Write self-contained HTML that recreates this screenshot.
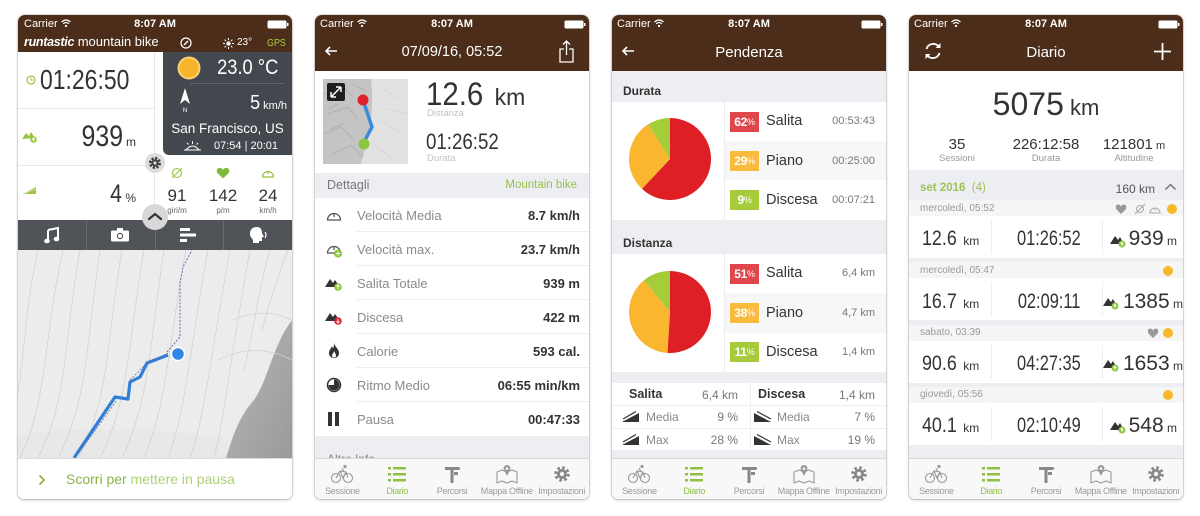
<!DOCTYPE html>
<html><head><meta charset="utf-8">
<style>
*{margin:0;padding:0;box-sizing:border-box}
body{width:1200px;height:516px;background:#fff;position:relative;overflow:hidden;font-family:"Liberation Sans",Arial,sans-serif;color:#333}
.ph{position:absolute;top:15px;width:274px;height:484px;border-radius:7px 7px 6px 6px;overflow:hidden;background:#fff;box-shadow:0 0 0 1px rgba(0,0,0,.10),0 1px 3px rgba(0,0,0,.22)}
.a{position:absolute;white-space:nowrap;line-height:1}
.hd{position:absolute;left:0;top:0;width:274px;height:56px;background:#4b2d19}
.st{font-size:11px;color:#fff}
.sb{font-size:11px;color:#fff;font-weight:bold;left:0;width:274px;text-align:center}
.ttl{font-size:14.5px;color:#fff;left:0;width:274px;text-align:center;top:29.5px}
.cx{display:inline-block;transform-origin:left bottom}
.cr{display:inline-block;transform-origin:right bottom}
.cc{display:inline-block;transform-origin:center bottom}
.ln{position:absolute;background:#e8e8e8}
.band{position:absolute;left:0;width:274px;background:#eceef1}
.tab{position:absolute;left:0;top:443px;width:274px;height:41px;background:#f8f8f8;border-top:1px solid #d9d9d9;display:flex}
.tab div{flex:1;position:relative}
.tab svg{position:absolute;left:50%;margin-left:-12px;top:5px}
.tab span{position:absolute;left:-5px;right:-5px;text-align:center;top:28px;font-size:9px;color:#9a9a9a;line-height:1;letter-spacing:-.3px;white-space:nowrap}
.lbl{font-size:13px;color:#8a8a8a;left:42px}
.val{font-size:13px;color:#333;font-weight:bold;right:9px}
.badge{position:absolute;left:118px;width:29px;height:20px;color:#fff;font-weight:bold;font-size:12px;display:flex;align-items:center;justify-content:center;letter-spacing:-.3px}
.badge small{font-size:9px;font-weight:normal}
.pl{font-size:14.5px;color:#333;left:154px}
.pt{font-size:11px;color:#777;right:11px}
.dt{font-size:10px;color:#9a9a9a;left:11px}
.num{font-size:21px;color:#333}
</style></head><body>

<!-- ================= PHONE 1 ================= -->
<div class="ph" style="left:18px">
 <div class="hd" style="height:37px"></div>
 <div class="a st" style="left:6px;top:3.7px">Carrier <svg width="10" height="8" viewBox="0 0 10 8" style="vertical-align:0"><path d="M0.5 3 Q5 -1 9.5 3" stroke="#fff" stroke-width="1.2" fill="none"/><path d="M2.2 4.8 Q5 2.2 7.8 4.8" stroke="#fff" stroke-width="1.2" fill="none"/><circle cx="5" cy="7" r="1.1" fill="#fff"/></svg></div>
 <div class="a sb" style="top:3.7px">8:07 AM</div>
 <svg class="a" style="left:249px;top:5px" width="22" height="9"><rect x="0.5" y="0.5" width="19" height="8" rx="1.5" fill="#fff"/><rect x="20" y="3" width="1.5" height="3" fill="#fff"/></svg>
 <div class="a" style="left:6px;top:20px;font-size:13px;color:#fff"><b><i style="font-size:12.5px;letter-spacing:-.3px">runtastic</i></b> mountain bike</div>
 <svg class="a" style="left:162px;top:22px" width="12" height="12"><circle cx="6" cy="6" r="5" stroke="#fff" stroke-width="1.2" fill="none"/><path d="M4 8 L8 4" stroke="#fff" stroke-width="1.4"/></svg>
 <svg class="a" style="left:205px;top:23px" width="11" height="11"><circle cx="5.5" cy="5.5" r="2.2" fill="#fff"/><g stroke="#fff" stroke-width="1"><path d="M5.5 0v2M5.5 9v2M0 5.5h2M9 5.5h2M1.6 1.6l1.4 1.4M8 8l1.4 1.4M1.6 9.4L3 8M8 3l1.4-1.4"/></g></svg>
 <div class="a" style="left:219px;top:22.7px;font-size:10px;color:#fff">23°</div>
 <div class="a" style="left:249px;top:22.7px;font-size:10.5px;color:#a9cf3c"><span class="cx" style="transform:scaleX(.85)">GPS</span></div>

 <!-- left column -->
 <svg class="a" style="left:8px;top:60px" width="10" height="10"><circle cx="5" cy="5" r="4" stroke="#9cc443" stroke-width="1.2" fill="none"/><path d="M5 2.5V5h2" stroke="#9cc443" stroke-width="1" fill="none"/></svg>
 <div class="a" style="left:22px;top:51.3px;font-size:28px;color:#333"><span class="cx" style="transform:scaleX(.82)">01:26:50</span></div>
 <div class="ln" style="left:0;top:93px;width:136px;height:1px"></div>
 <svg class="a" style="left:4px;top:115px" width="16" height="13"><path d="M0 9 L4 3 L7 6 L9 2 L13 8 Z" fill="#9cc443"/><circle cx="11.5" cy="9.5" r="3.3" fill="#9cc443"/><path d="M11.5 11.5v-3.5M10 9.5l1.5-1.5 1.5 1.5" stroke="#fff" stroke-width=".9" fill="none"/></svg>
 <div class="a" style="right:156px;top:106.6px;font-size:30px;color:#333"><span class="cr" style="transform:scaleX(.83)">939</span><span style="font-size:12px"> m</span></div>
 <div class="ln" style="left:0;top:150px;width:136px;height:1px"></div>
 <svg class="a" style="left:5px;top:170px" width="14" height="10"><path d="M0 9 L13 2 L13 9 Z" fill="#9cc443"/><path d="M0 9 L13 4" stroke="#c5e08d" stroke-width="1"/></svg>
 <div class="a" style="right:156px;top:166.8px;font-size:25px;color:#333"><span class="cr" style="transform:scaleX(.85)">4</span><span style="font-size:12px"> %</span></div>
 <div class="ln" style="left:136px;top:37px;width:1px;height:168px"></div>

 <!-- dark panel -->
 <div class="a" style="left:145px;top:37px;width:129px;height:103px;background:#42484d;border-bottom-left-radius:6px"></div>
 <svg class="a" style="left:159px;top:41px" width="24" height="24"><circle cx="12" cy="12" r="10.5" fill="#f8b52c" stroke="#f9d27a" stroke-width="2"/></svg>
 <div class="a" style="right:14px;top:42.2px;font-size:21px;color:#fff"><span class="cr" style="transform:scaleX(.87)">23.0 °C</span></div>
 <div class="a" style="left:172px;top:68px;width:94px;height:1px;background:#5e656a"></div>
 <svg class="a" style="left:160px;top:72px" width="14" height="26"><path d="M7 1 L12 17 L7 13 L2 17 Z" fill="#fff"/><text x="7" y="25" font-size="6" fill="#fff" text-anchor="middle" font-family="Liberation Sans">N</text></svg>
 <div class="a" style="right:5px;top:78px;font-size:20px;color:#fff"><span class="cr" style="transform:scaleX(.9)">5</span><span style="font-size:11px"> km/h</span></div>
 <div class="a" style="left:145px;width:129px;text-align:center;top:106.6px;font-size:13.5px;color:#fff">San Francisco, US</div>
 <svg class="a" style="left:166px;top:125px" width="17" height="12"><path d="M2 10 Q8.5 2 15 10" stroke="#fff" stroke-width="1.1" fill="none"/><path d="M0 10h17M8.5 1v3M3 3l1.5 1.5M14 3l-1.5 1.5" stroke="#fff" stroke-width="1"/></svg>
 <div class="a" style="left:196px;top:125.7px;font-size:11px;color:#fff">07:54 | 20:01</div>

 <!-- bottom right stats -->
 <svg class="a" style="left:152px;top:151px" width="14" height="14"><circle cx="7" cy="7" r="4.5" stroke="#9cc443" stroke-width="1.1" fill="none"/><path d="M2 12 L12 2" stroke="#9cc443" stroke-width="1.1"/></svg>
 <svg class="a" style="left:198px;top:152px" width="14" height="12"><path d="M7 11.5 L1 5.5 Q0 2 3 1 Q5.5 0.5 7 3 Q8.5 0.5 11 1 Q14 2 13 5.5 Z" fill="#7fba3a"/></svg>
 <svg class="a" style="left:243px;top:151px" width="14" height="13"><path d="M1.5 11 A5.5 5.5 0 1 1 12.5 11 Z" stroke="#9cc443" stroke-width="1.2" fill="none"/><path d="M7 5v3" stroke="#9cc443" stroke-width="1.2"/></svg>
 <div class="a" style="left:139px;width:40px;text-align:center;top:171.6px;font-size:17px">91</div>
 <div class="a" style="left:185px;width:40px;text-align:center;top:171.6px;font-size:17px">142</div>
 <div class="a" style="left:230px;width:40px;text-align:center;top:171.6px;font-size:17px">24</div>
 <div class="a" style="left:139px;width:40px;text-align:center;top:191.5px;font-size:8px;color:#666">giri/m</div>
 <div class="a" style="left:185px;width:40px;text-align:center;top:191.5px;font-size:8px;color:#666">p/m</div>
 <div class="a" style="left:230px;width:40px;text-align:center;top:191.5px;font-size:8px;color:#666">km/h</div>

 <!-- map -->
 <svg class="a" style="left:0;top:235px" width="274" height="208" viewBox="0 0 274 208">
  <defs><linearGradient id="dg" x1="0" y1="0" x2="1" y2="1"><stop offset="0" stop-color="#c9c9c9"/><stop offset=".5" stop-color="#a9a9a9"/><stop offset="1" stop-color="#9a9a9a"/></linearGradient></defs>
  <rect width="274" height="208" fill="#ececec"/>
  <path d="M274 70 C255 95 250 130 236 150 C222 165 215 185 208 208 L274 208 Z" fill="url(#dg)"/>
  <path d="M0 185 C60 175 150 178 210 190 L208 208 L0 208Z" fill="#e6e6e6" opacity=".6"/>
  <g stroke="#d2d2d2" stroke-width=".8" fill="none">
   <path d="M-20 208 C10 150 0 90 20 0"/>
   <path d="M2 208 C30 150 25 90 45 0"/>
   <path d="M20 208 C50 150 45 95 62 0"/>
   <path d="M40 208 C70 150 68 95 82 0"/>
   <path d="M60 208 C92 150 88 90 104 0"/>
   <path d="M82 208 C112 150 110 90 126 0"/>
   <path d="M104 208 C132 150 132 90 146 0"/>
   <path d="M126 208 C150 150 150 95 168 0"/>
   <path d="M150 208 C168 160 170 110 190 0"/>
   <path d="M172 208 C186 170 192 110 212 0"/>
   <path d="M196 208 C205 175 212 110 232 0"/>
   <path d="M226 120 C236 80 240 40 252 0"/>
   <path d="M244 80 C252 50 260 25 270 0"/>
   <path d="M200 110 C230 95 255 100 274 110"/>
   <path d="M215 70 C240 60 258 62 274 70"/>
  </g>
  <path d="M149 102 L162 87 L162 33 L165 17 L174 0" stroke="#6a6ab5" stroke-width="1" stroke-dasharray="2 1.5" fill="none"/>
  <path d="M56 208 L97 147 L110 149 L112 132 L122 127 L129 113 L150 105" stroke="#2f7fd6" stroke-width="3.2" fill="none" stroke-linejoin="round"/>
  <path d="M60 204 L99 150 M112 130 L128 114 L150 103" stroke="#6a6ab5" stroke-width=".8" stroke-dasharray="2 1.5" fill="none"/>
  <circle cx="160" cy="104" r="6.5" fill="#2f86e6" stroke="#fff" stroke-width="1.5"/>
 </svg>

 <!-- toolbar -->
 <div class="a" style="left:0;top:205px;width:274px;height:30px;background:#505458"></div>
 <div class="a" style="left:68px;top:205px;width:1px;height:30px;background:#686c70"></div>
 <div class="a" style="left:137px;top:205px;width:1px;height:30px;background:#686c70"></div>
 <div class="a" style="left:205px;top:205px;width:1px;height:30px;background:#686c70"></div>
 <svg class="a" style="left:26px;top:211px" width="16" height="18"><path d="M4 4 L14 2 L14 13 M4 4 L4 15" stroke="#fff" stroke-width="2" fill="none"/><ellipse cx="3" cy="15" rx="2.8" ry="2.3" fill="#fff"/><ellipse cx="12.5" cy="13" rx="2.8" ry="2.3" fill="#fff"/></svg>
 <svg class="a" style="left:93px;top:213px" width="18" height="14"><rect x="0" y="2.5" width="18" height="11" rx="1.5" fill="#fff"/><rect x="6" y="0" width="6" height="3" fill="#fff"/><circle cx="9" cy="8" r="3.2" fill="#505458"/><circle cx="9" cy="8" r="2" fill="#fff"/></svg>
 <svg class="a" style="left:162px;top:213px" width="18" height="14"><rect x="0" y="0" width="10" height="3" fill="#fff"/><rect x="0" y="5.5" width="16" height="3" fill="#fff"/><rect x="0" y="11" width="7" height="3" fill="#fff"/></svg>
 <svg class="a" style="left:231px;top:211px" width="20" height="18"><path d="M8 1 C3 1 1 4 1 8 C1 11 3 12 4 14 L4 17 L10 17 L10 15 L13 15 L13 11 L15 11 L13 7 C13 3 11 1 8 1Z" fill="#fff"/><path d="M16 6 Q18 9 16 12" stroke="#fff" stroke-width="1.2" fill="none"/></svg>

 <!-- overlay circles -->
 <div class="a" style="left:127px;top:138px;width:20px;height:20px;border-radius:50%;background:#dcdcdc"></div>
 <svg class="a" style="left:130px;top:141px" width="14" height="14"><circle cx="7" cy="7" r="4.6" fill="none" stroke="#3e3e3e" stroke-width="2.8" stroke-dasharray="2.2 1.4"/><circle cx="7" cy="7" r="3.6" fill="#3e3e3e"/><circle cx="7" cy="7" r="1.6" fill="#dcdcdc"/></svg>
 <div class="a" style="left:124px;top:189px;width:26px;height:26px;border-radius:50%;background:#d8d8d8"></div>
 <svg class="a" style="left:129px;top:196px" width="16" height="10"><path d="M2 8 L8 3 L14 8" stroke="#333" stroke-width="2.2" fill="none" stroke-linecap="round"/></svg>

 <!-- bottom bar -->
 <div class="a" style="left:0;top:443px;width:274px;height:41px;background:#fff;border-top:1px solid #dcdcdc"></div>
 <svg class="a" style="left:20px;top:459px" width="8" height="12"><path d="M1.5 1.5 L6 6 L1.5 10.5" stroke="#8db43f" stroke-width="1.8" fill="none"/></svg>
 <div class="a" style="left:48px;top:457.1px;font-size:14px;color:#98bd55"><span style="color:#8cb148">Scorri per</span> <span style="color:#b0cf78">mettere in pausa</span></div>
</div>

<!-- ================= PHONE 2 ================= -->
<div class="ph" style="left:315px">
 <div class="hd"></div>
 <div class="a st" style="left:5px;top:3.7px">Carrier <svg width="10" height="8" viewBox="0 0 10 8"><path d="M0.5 3 Q5 -1 9.5 3" stroke="#fff" stroke-width="1.2" fill="none"/><path d="M2.2 4.8 Q5 2.2 7.8 4.8" stroke="#fff" stroke-width="1.2" fill="none"/><circle cx="5" cy="7" r="1.1" fill="#fff"/></svg></div>
 <div class="a sb" style="top:3.7px">8:07 AM</div>
 <svg class="a" style="left:249px;top:5px" width="22" height="9"><rect x="0.5" y="0.5" width="19" height="8" rx="1.5" fill="#fff"/><rect x="20" y="3" width="1.5" height="3" fill="#fff"/></svg>
 <svg class="a" style="left:9px;top:31px" width="14" height="10"><path d="M13 5 H2 M6 1 L2 5 L6 9" stroke="#fff" stroke-width="1.6" fill="none"/></svg>
 <div class="a ttl">07/09/16, 05:52</div>
 <svg class="a" style="left:244px;top:25px" width="15" height="23"><path d="M5 9 H1 V22 H14 V9 H10" stroke="#fff" stroke-width="1.3" fill="none"/><path d="M7.5 15 V1 M4 4.5 L7.5 1 L11 4.5" stroke="#fff" stroke-width="1.3" fill="none"/></svg>

 <svg class="a" style="left:8px;top:64px" width="85" height="85" viewBox="0 0 85 85">
  <rect width="85" height="85" fill="#c4c4c4"/>
  <path d="M48 0 L85 0 L85 85 L38 85 C44 60 52 40 48 0Z" fill="#e2e2e2"/>
  <g stroke="#adadad" stroke-width="1" fill="none" opacity=".8">
   <path d="M0 15 L20 8 L30 18 M5 35 L25 28 L35 40 M0 55 L18 48 L30 60 M10 75 L28 66 L40 78 M30 5 L42 12 M15 25 L5 30 M20 45 L8 50"/>
  </g>
  <g stroke="#d6d6d6" stroke-width="1" fill="none"><path d="M60 10 L75 20 M55 40 L80 55 M50 65 L70 80 M65 30 L85 35"/></g>
  <rect x="4" y="4" width="18" height="18" rx="2" fill="#1e1e1e"/>
  <path d="M8 18 L18 8 M8 18 V13 M8 18 H13 M18 8 V13 M18 8 H13" stroke="#fff" stroke-width="1.5" fill="none"/>
  <path d="M40 21 L49 48 L41 63" stroke="#3b8bdb" stroke-width="3.5" fill="none" stroke-linejoin="round"/>
  <circle cx="40" cy="21" r="5.5" fill="#e11f2b"/>
  <circle cx="41" cy="65" r="5.5" fill="#8cc63f"/>
 </svg>
 <div class="a" style="left:111px;top:62.9px;font-size:32px;color:#333"><span class="cx" style="transform:scaleX(.92)">12.6</span><span style="font-size:23px"> km</span></div>
 <div class="a" style="left:112px;top:94px;font-size:9.5px;color:#c2c2c2">Distanza</div>
 <div class="a" style="left:111px;top:116.4px;font-size:22px;color:#333"><span class="cx" style="transform:scaleX(.85)">01:26:52</span></div>
 <div class="a" style="left:112px;top:139px;font-size:9.5px;color:#c2c2c2">Durata</div>

 <div class="band" style="top:158px;height:25px"></div>
 <div class="a" style="left:12px;top:164.4px;font-size:12.5px;color:#777">Dettagli</div>
 <div class="a" style="right:12px;top:165px;font-size:11.5px;color:#98c149">Mountain bike</div>

 <div class="ln" style="left:42px;top:216px;width:232px;height:1px;background:#eee"></div>
 <div class="ln" style="left:42px;top:250px;width:232px;height:1px;background:#eee"></div>
 <div class="ln" style="left:42px;top:284px;width:232px;height:1px;background:#eee"></div>
 <div class="ln" style="left:42px;top:318px;width:232px;height:1px;background:#eee"></div>
 <div class="ln" style="left:42px;top:352px;width:232px;height:1px;background:#eee"></div>
 <div class="ln" style="left:42px;top:386px;width:232px;height:1px;background:#eee"></div>

 <svg class="a" style="left:11px;top:193px" width="16" height="14"><path d="M1.5 12 A6.5 6.5 0 1 1 14.5 12 Z" stroke="#555" stroke-width="1.3" fill="none"/><path d="M8 6v3" stroke="#555" stroke-width="1.3"/></svg>
 <div class="a lbl" style="top:193.7px">Velocità Media</div><div class="a val" style="top:193.7px">8.7 km/h</div>

 <svg class="a" style="left:11px;top:226px" width="17" height="17"><path d="M1.5 12 A6.5 6.5 0 1 1 14.5 12 Z" stroke="#555" stroke-width="1.3" fill="none"/><path d="M8 6v3" stroke="#555" stroke-width="1.3"/><circle cx="12" cy="12.5" r="4" fill="#8cc63f"/><path d="M12 10.5v4M10 12.5h4" stroke="#fff" stroke-width="1"/></svg>
 <div class="a lbl" style="top:227.7px">Velocità max.</div><div class="a val" style="top:227.7px">23.7 km/h</div>

 <svg class="a" style="left:10px;top:261px" width="18" height="15"><path d="M0 11 L5 3 L8 7 L10 4 L15 11 Z" fill="#333"/><circle cx="13" cy="11" r="3.8" fill="#8cc63f"/><path d="M13 13v-4M11.5 10.5l1.5-1.5 1.5 1.5" stroke="#fff" stroke-width=".9" fill="none"/></svg>
 <div class="a lbl" style="top:261.7px">Salita Totale</div><div class="a val" style="top:261.7px">939 m</div>

 <svg class="a" style="left:10px;top:295px" width="18" height="15"><path d="M0 11 L5 3 L8 7 L10 4 L15 11 Z" fill="#333"/><circle cx="13" cy="11" r="3.8" fill="#e0262f"/><path d="M13 9v4M11.5 11.5l1.5 1.5 1.5-1.5" stroke="#fff" stroke-width=".9" fill="none"/></svg>
 <div class="a lbl" style="top:295.7px">Discesa</div><div class="a val" style="top:295.7px">422 m</div>

 <svg class="a" style="left:13px;top:328px" width="12" height="15"><path d="M6 0 C7 4 11 6 11 10 C11 13 9 15 6 15 C3 15 1 13 1 10 C1 7 3 6 4 3 C5 6 6 6 6 0Z" fill="#333"/><path d="M6 8 C7 10 8 11 8 12.5 C8 14 7 14.5 6 14.5 C5 14.5 4 14 4 12.5 C4 11 5.5 10.5 6 8Z" fill="#fff"/></svg>
 <div class="a lbl" style="top:329.7px">Calorie</div><div class="a val" style="top:329.7px">593 cal.</div>

 <svg class="a" style="left:11px;top:362px" width="16" height="16"><circle cx="8" cy="8" r="6.5" stroke="#333" stroke-width="1.5" fill="#fff"/><path d="M8 8 L8 2.5 A5.5 5.5 0 1 1 2.5 8 Z" fill="#333"/></svg>
 <div class="a lbl" style="top:363.7px">Ritmo Medio</div><div class="a val" style="top:363.7px">06:55 min/km</div>

 <svg class="a" style="left:13px;top:397px" width="12" height="14"><rect x="0" y="0" width="4" height="14" fill="#333"/><rect x="7" y="0" width="4" height="14" fill="#333"/></svg>
 <div class="a lbl" style="top:397.7px">Pausa</div><div class="a val" style="top:397.7px">00:47:33</div>

 <div class="band" style="top:421px;height:22px"></div>
 <div class="a" style="left:12px;top:438px;font-size:12px;color:#888">Altre Info</div>

 <div class="tab">
  <div><svg width="24" height="20" viewBox="0 0 24 20"><g stroke="#999" stroke-width="1.1" fill="none"><circle cx="6" cy="14" r="4.5"/><circle cx="18" cy="14" r="4.5"/><path d="M6 14 L10 7 L16 8 L18 14 M10 7 L13 14 L16 8 M12 4 L14 8"/></g><circle cx="15" cy="2.5" r="1.6" fill="#999"/></svg><span>Sessione</span></div>
  <div><svg width="24" height="20" viewBox="0 0 24 20"><g fill="#8fc043"><rect x="3" y="3" width="3" height="2.5"/><rect x="3" y="9" width="3" height="2.5"/><rect x="3" y="15" width="3" height="2.5"/><rect x="8" y="3" width="13" height="2.5"/><rect x="8" y="9" width="13" height="2.5"/><rect x="8" y="15" width="13" height="2.5"/></g></svg><span style="color:#8fc043">Diario</span></div>
  <div><svg width="24" height="20" viewBox="0 0 24 20"><g fill="#888"><rect x="10.5" y="3" width="3" height="16"/><path d="M5 3 H19 L20.5 4.5 L19 6 H5Z"/><path d="M14 8 H18 V11 H14Z"/></g></svg><span>Percorsi</span></div>
  <div><svg width="24" height="20" viewBox="0 0 24 20"><path d="M2 8 L7 6 L12 8 L17 6 L22 8 V19 L17 17 L12 19 L7 17 L2 19Z" stroke="#999" stroke-width="1.1" fill="none"/><path d="M12 12 L9 6 A3.4 3.4 0 1 1 15 6Z" fill="#999"/><circle cx="12" cy="4.6" r="1.3" fill="#f8f8f8"/></svg><span>Mappa Offline</span></div>
  <div><svg width="24" height="20" viewBox="0 0 24 20"><circle cx="12" cy="10" r="6.3" fill="none" stroke="#888" stroke-width="3" stroke-dasharray="2.6 2.35"/><circle cx="12" cy="10" r="5" fill="#888"/><circle cx="12" cy="10" r="2.2" fill="#f8f8f8"/></svg><span>Impostazioni</span></div>
 </div>
</div>

<!-- ================= PHONE 3 ================= -->
<div class="ph" style="left:612px">
 <div class="hd"></div>
 <div class="a st" style="left:5px;top:3.7px">Carrier <svg width="10" height="8" viewBox="0 0 10 8"><path d="M0.5 3 Q5 -1 9.5 3" stroke="#fff" stroke-width="1.2" fill="none"/><path d="M2.2 4.8 Q5 2.2 7.8 4.8" stroke="#fff" stroke-width="1.2" fill="none"/><circle cx="5" cy="7" r="1.1" fill="#fff"/></svg></div>
 <div class="a sb" style="top:3.7px">8:07 AM</div>
 <svg class="a" style="left:249px;top:5px" width="22" height="9"><rect x="0.5" y="0.5" width="19" height="8" rx="1.5" fill="#fff"/><rect x="20" y="3" width="1.5" height="3" fill="#fff"/></svg>
 <svg class="a" style="left:9px;top:31px" width="14" height="10"><path d="M13 5 H2 M6 1 L2 5 L6 9" stroke="#fff" stroke-width="1.6" fill="none"/></svg>
 <div class="a ttl" style="font-size:15px">Pendenza</div>

 <div class="band" style="top:56px;height:31px"></div>
 <div class="a" style="left:11px;top:69.8px;font-size:12px;font-weight:bold;color:#333">Durata</div>
 <div class="a" style="left:112px;top:126px;width:162px;height:39px;background:#f6f7f8"></div>
 <div class="ln" style="left:112px;top:87px;width:1px;height:118px;background:#ececec"></div>
 <svg class="a" style="left:17px;top:103px" width="82" height="82" viewBox="0 0 82 82">
  <path d="M41 41 L41 0 A41 41 0 1 1 12.94 70.89 Z" fill="#de1f26"/>
  <path d="M41 41 L12.94 70.89 A41 41 0 0 1 19.03 6.38 Z" fill="#fbb630"/>
  <path d="M41 41 L19.03 6.38 A41 41 0 0 1 41 0 Z" fill="#a5cc39"/>
 </svg>
 <div class="badge" style="top:96.5px;background:#df474d">62<small>%</small></div>
 <div class="a pl" style="top:99.4px">Salita</div><div class="a pt" style="top:101.2px">00:53:43</div>
 <div class="badge" style="top:135.8px;background:#f8bb3d">29<small>%</small></div>
 <div class="a pl" style="top:138.7px">Piano</div><div class="a pt" style="top:140.5px">00:25:00</div>
 <div class="badge" style="top:175px;background:#a6cb3b">9<small>%</small></div>
 <div class="a pl" style="top:177.9px">Discesa</div><div class="a pt" style="top:179.7px">00:07:21</div>

 <div class="band" style="top:205px;height:34px"></div>
 <div class="a" style="left:11px;top:221.8px;font-size:12px;font-weight:bold;color:#333">Distanza</div>
 <div class="a" style="left:112px;top:278px;width:162px;height:40px;background:#f6f7f8"></div>
 <div class="ln" style="left:112px;top:239px;width:1px;height:118px;background:#ececec"></div>
 <svg class="a" style="left:17px;top:256px" width="82" height="82" viewBox="0 0 82 82">
  <path d="M41 41 L41 0 A41 41 0 1 1 38.43 81.92 Z" fill="#de1f26"/>
  <path d="M41 41 L38.43 81.92 A41 41 0 0 1 14.87 9.41 Z" fill="#fbb630"/>
  <path d="M41 41 L14.87 9.41 A41 41 0 0 1 41 0 Z" fill="#a5cc39"/>
 </svg>
 <div class="badge" style="top:248.5px;background:#df474d">51<small>%</small></div>
 <div class="a pl" style="top:251.4px">Salita</div><div class="a pt" style="top:253.2px">6,4 km</div>
 <div class="badge" style="top:287.8px;background:#f8bb3d">38<small>%</small></div>
 <div class="a pl" style="top:290.7px">Piano</div><div class="a pt" style="top:292.5px">4,7 km</div>
 <div class="badge" style="top:327.2px;background:#a6cb3b">11<small>%</small></div>
 <div class="a pl" style="top:330.1px">Discesa</div><div class="a pt" style="top:331.9px">1,4 km</div>

 <div class="band" style="top:357px;height:11px"></div>
 <div class="ln" style="left:0;top:390px;width:274px;height:1px;background:#eee"></div>
 <div class="ln" style="left:0;top:413px;width:274px;height:1px;background:#eee"></div>
 <div class="ln" style="left:138px;top:368px;width:1px;height:67px;background:#eee"></div>
 <div class="a" style="left:17px;top:373.4px;font-size:12.5px;font-weight:bold;color:#333">Salita</div>
 <div class="a" style="right:148px;top:373.8px;font-size:12px;color:#777">6,4 km</div>
 <div class="a" style="left:146px;top:373.4px;font-size:12.5px;font-weight:bold;color:#333">Discesa</div>
 <div class="a" style="right:11px;top:373.8px;font-size:12px;color:#777">1,4 km</div>

 <svg class="a" style="left:10px;top:395px" width="18" height="13"><path d="M0 12 L17 3 L17 12Z" fill="#333"/><path d="M1 9 L14 1.5" stroke="#333" stroke-width="1.2"/></svg>
 <div class="a" style="left:34px;top:396.3px;font-size:12px;color:#888">Media</div>
 <div class="a" style="right:148px;top:396.3px;font-size:12px;color:#777">9 %</div>
 <svg class="a" style="left:142px;top:395px" width="18" height="13"><path d="M0 3 L17 12 L0 12Z" fill="#333"/><path d="M3 1.5 L17 9" stroke="#333" stroke-width="1.2"/></svg>
 <div class="a" style="left:165px;top:396.3px;font-size:12px;color:#888">Media</div>
 <div class="a" style="right:11px;top:396.3px;font-size:12px;color:#777">7 %</div>

 <svg class="a" style="left:10px;top:418px" width="18" height="13"><path d="M0 12 L17 3 L17 12Z" fill="#333"/><path d="M1 9 L14 1.5" stroke="#333" stroke-width="1.2"/></svg>
 <div class="a" style="left:34px;top:418.8px;font-size:12px;color:#888">Max</div>
 <div class="a" style="right:148px;top:418.8px;font-size:12px;color:#777">28 %</div>
 <svg class="a" style="left:142px;top:418px" width="18" height="13"><path d="M0 3 L17 12 L0 12Z" fill="#333"/><path d="M3 1.5 L17 9" stroke="#333" stroke-width="1.2"/></svg>
 <div class="a" style="left:165px;top:418.8px;font-size:12px;color:#888">Max</div>
 <div class="a" style="right:11px;top:418.8px;font-size:12px;color:#777">19 %</div>
 <div class="band" style="top:435px;height:8px"></div>

 <div class="tab">
  <div><svg width="24" height="20" viewBox="0 0 24 20"><g stroke="#999" stroke-width="1.1" fill="none"><circle cx="6" cy="14" r="4.5"/><circle cx="18" cy="14" r="4.5"/><path d="M6 14 L10 7 L16 8 L18 14 M10 7 L13 14 L16 8 M12 4 L14 8"/></g><circle cx="15" cy="2.5" r="1.6" fill="#999"/></svg><span>Sessione</span></div>
  <div><svg width="24" height="20" viewBox="0 0 24 20"><g fill="#8fc043"><rect x="3" y="3" width="3" height="2.5"/><rect x="3" y="9" width="3" height="2.5"/><rect x="3" y="15" width="3" height="2.5"/><rect x="8" y="3" width="13" height="2.5"/><rect x="8" y="9" width="13" height="2.5"/><rect x="8" y="15" width="13" height="2.5"/></g></svg><span style="color:#8fc043">Diario</span></div>
  <div><svg width="24" height="20" viewBox="0 0 24 20"><g fill="#888"><rect x="10.5" y="3" width="3" height="16"/><path d="M5 3 H19 L20.5 4.5 L19 6 H5Z"/><path d="M14 8 H18 V11 H14Z"/></g></svg><span>Percorsi</span></div>
  <div><svg width="24" height="20" viewBox="0 0 24 20"><path d="M2 8 L7 6 L12 8 L17 6 L22 8 V19 L17 17 L12 19 L7 17 L2 19Z" stroke="#999" stroke-width="1.1" fill="none"/><path d="M12 12 L9 6 A3.4 3.4 0 1 1 15 6Z" fill="#999"/><circle cx="12" cy="4.6" r="1.3" fill="#f8f8f8"/></svg><span>Mappa Offline</span></div>
  <div><svg width="24" height="20" viewBox="0 0 24 20"><circle cx="12" cy="10" r="6.3" fill="none" stroke="#888" stroke-width="3" stroke-dasharray="2.6 2.35"/><circle cx="12" cy="10" r="5" fill="#888"/><circle cx="12" cy="10" r="2.2" fill="#f8f8f8"/></svg><span>Impostazioni</span></div>
 </div>
</div>

<!-- ================= PHONE 4 ================= -->
<div class="ph" style="left:909px">
 <div class="hd"></div>
 <div class="a st" style="left:5px;top:3.7px">Carrier <svg width="10" height="8" viewBox="0 0 10 8"><path d="M0.5 3 Q5 -1 9.5 3" stroke="#fff" stroke-width="1.2" fill="none"/><path d="M2.2 4.8 Q5 2.2 7.8 4.8" stroke="#fff" stroke-width="1.2" fill="none"/><circle cx="5" cy="7" r="1.1" fill="#fff"/></svg></div>
 <div class="a sb" style="top:3.7px">8:07 AM</div>
 <svg class="a" style="left:249px;top:5px" width="22" height="9"><rect x="0.5" y="0.5" width="19" height="8" rx="1.5" fill="#fff"/><rect x="20" y="3" width="1.5" height="3" fill="#fff"/></svg>
 <svg class="a" style="left:14px;top:26px" width="20" height="20"><path d="M3.5 8 A7 7 0 0 1 16 6" stroke="#fff" stroke-width="1.8" fill="none"/><path d="M16.5 12 A7 7 0 0 1 4 14" stroke="#fff" stroke-width="1.8" fill="none"/><path d="M17.5 2 V7 H12.5Z" fill="#fff"/><path d="M2.5 18 V13 H7.5Z" fill="#fff"/></svg>
 <svg class="a" style="left:245px;top:28px" width="17" height="17"><path d="M8.5 0 V17 M0 8.5 H17" stroke="#fff" stroke-width="1.8"/></svg>
 <div class="a ttl" style="font-size:15px">Diario</div>

 <div class="a" style="left:0;width:274px;text-align:center;top:72.9px;font-size:32px;color:#333">5075<span style="font-size:22px"> km</span></div>
 <div class="a" style="left:8px;width:80px;text-align:center;top:122.3px;font-size:15px;color:#333">35</div>
 <div class="a" style="left:87px;width:100px;text-align:center;top:122.3px;font-size:15px;color:#333">226:12:58</div>
 <div class="a" style="left:175px;width:100px;text-align:center;top:122.3px;font-size:15px;color:#333">121801<span style="font-size:11px"> m</span></div>
 <div class="a" style="left:8px;width:80px;text-align:center;top:139.4px;font-size:9.5px;color:#999">Sessioni</div>
 <div class="a" style="left:87px;width:100px;text-align:center;top:139.4px;font-size:9.5px;color:#999">Durata</div>
 <div class="a" style="left:175px;width:100px;text-align:center;top:139.4px;font-size:9.5px;color:#999">Altitudine</div>

 <div class="band" style="top:155px;height:30px"></div>
 <div class="a" style="left:11px;top:168px;font-size:11.5px;color:#9dc25a"><b>set 2016</b>&nbsp; (4)</div>
 <div class="a" style="right:28px;top:167.8px;font-size:12px;color:#555">160 km</div>
 <svg class="a" style="left:255px;top:168px" width="13" height="8"><path d="M1.5 6.5 L6.5 1.5 L11.5 6.5" stroke="#777" stroke-width="1.5" fill="none"/></svg>

 <!-- group 1 -->
 <div class="a" style="left:0;top:185px;width:274px;height:16px;background:#f5f5f5"></div>
 <div class="a dt" style="top:188.5px">mercoledì, 05:52</div>
 <svg class="a" style="left:206px;top:188px" width="62" height="12"><path d="M6 11 L1 6 Q0 2 3 1.5 Q5 1.5 6 3.5 Q7 1.5 9 1.5 Q12 2 11 6Z" fill="#999"/><circle cx="25" cy="6" r="3.5" stroke="#aaa" stroke-width="1" fill="none"/><path d="M20 11 L30 1" stroke="#aaa" stroke-width="1"/><path d="M35 10 A5 5 0 1 1 45 10Z" stroke="#aaa" stroke-width="1" fill="none"/><path d="M40 5v2.5" stroke="#aaa"/><circle cx="57" cy="6" r="5" fill="#f6b829"/></svg>
 <div class="ln" style="left:82px;top:205px;width:1px;height:34px;background:#eee"></div>
 <div class="ln" style="left:193px;top:205px;width:1px;height:34px;background:#eee"></div>
 <div class="a num" style="left:13px;top:213.2px"><span class="cx" style="transform:scaleX(.85)">12.6</span><span style="font-size:12px;margin-left:-3px"> km</span></div>
 <div class="a num" style="left:90px;width:100px;text-align:center;top:213.2px"><span class="cc" style="transform:scaleX(.78)">01:26:52</span></div>
 <svg class="a" style="left:201px;top:219px" width="16" height="14"><path d="M0 10 L5 2 L8 6 L10 3 L14 10 Z" fill="#333"/><circle cx="12" cy="10" r="3.5" fill="#8cc63f"/><path d="M12 12v-3.5M10.6 9.8l1.4-1.4 1.4 1.4" stroke="#fff" stroke-width=".9" fill="none"/></svg>
 <div class="a num" style="right:6px;top:213.2px">939<span style="font-size:12px"> m</span></div>
 <div class="band" style="top:243px;height:4.3px"></div>

 <!-- group 2 -->
 <div class="a" style="left:0;top:247.3px;width:274px;height:16px;background:#f5f5f5"></div>
 <div class="a dt" style="top:250.8px">mercoledì, 05:47</div>
 <svg class="a" style="left:253px;top:250px" width="12" height="12"><circle cx="6" cy="6" r="5" fill="#f6b829"/></svg>
 <div class="ln" style="left:82px;top:267px;width:1px;height:34px;background:#eee"></div>
 <div class="ln" style="left:193px;top:267px;width:1px;height:34px;background:#eee"></div>
 <div class="a num" style="left:13px;top:275.5px"><span class="cx" style="transform:scaleX(.85)">16.7</span><span style="font-size:12px;margin-left:-3px"> km</span></div>
 <div class="a num" style="left:90px;width:100px;text-align:center;top:275.5px"><span class="cc" style="transform:scaleX(.78)">02:09:11</span></div>
 <svg class="a" style="left:194px;top:281px" width="16" height="14"><path d="M0 10 L5 2 L8 6 L10 3 L14 10 Z" fill="#333"/><circle cx="12" cy="10" r="3.5" fill="#8cc63f"/><path d="M12 12v-3.5M10.6 9.8l1.4-1.4 1.4 1.4" stroke="#fff" stroke-width=".9" fill="none"/></svg>
 <div class="a num" style="right:0px;top:275.5px">1385<span style="font-size:12px"> m</span></div>
 <div class="band" style="top:305.3px;height:4.3px"></div>

 <!-- group 3 -->
 <div class="a" style="left:0;top:309.6px;width:274px;height:16px;background:#f5f5f5"></div>
 <div class="a dt" style="top:313.1px">sabato, 03:39</div>
 <svg class="a" style="left:238px;top:312px" width="28" height="12"><path d="M6 11 L1 6 Q0 2 3 1.5 Q5 1.5 6 3.5 Q7 1.5 9 1.5 Q12 2 11 6Z" fill="#999"/><circle cx="21" cy="6" r="5" fill="#f6b829"/></svg>
 <div class="ln" style="left:82px;top:330px;width:1px;height:34px;background:#eee"></div>
 <div class="ln" style="left:193px;top:330px;width:1px;height:34px;background:#eee"></div>
 <div class="a num" style="left:13px;top:337.8px"><span class="cx" style="transform:scaleX(.85)">90.6</span><span style="font-size:12px;margin-left:-3px"> km</span></div>
 <div class="a num" style="left:90px;width:100px;text-align:center;top:337.8px"><span class="cc" style="transform:scaleX(.78)">04:27:35</span></div>
 <svg class="a" style="left:194px;top:343px" width="16" height="14"><path d="M0 10 L5 2 L8 6 L10 3 L14 10 Z" fill="#333"/><circle cx="12" cy="10" r="3.5" fill="#8cc63f"/><path d="M12 12v-3.5M10.6 9.8l1.4-1.4 1.4 1.4" stroke="#fff" stroke-width=".9" fill="none"/></svg>
 <div class="a num" style="right:0px;top:337.8px">1653<span style="font-size:12px"> m</span></div>
 <div class="band" style="top:367.6px;height:4.3px"></div>

 <!-- group 4 -->
 <div class="a" style="left:0;top:371.9px;width:274px;height:16px;background:#f5f5f5"></div>
 <div class="a dt" style="top:375.4px">giovedì, 05:56</div>
 <svg class="a" style="left:253px;top:374px" width="12" height="12"><circle cx="6" cy="6" r="5" fill="#f6b829"/></svg>
 <div class="ln" style="left:82px;top:392px;width:1px;height:34px;background:#eee"></div>
 <div class="ln" style="left:193px;top:392px;width:1px;height:34px;background:#eee"></div>
 <div class="a num" style="left:13px;top:400.1px"><span class="cx" style="transform:scaleX(.85)">40.1</span><span style="font-size:12px;margin-left:-3px"> km</span></div>
 <div class="a num" style="left:90px;width:100px;text-align:center;top:400.1px"><span class="cc" style="transform:scaleX(.78)">02:10:49</span></div>
 <svg class="a" style="left:201px;top:405px" width="16" height="14"><path d="M0 10 L5 2 L8 6 L10 3 L14 10 Z" fill="#333"/><circle cx="12" cy="10" r="3.5" fill="#8cc63f"/><path d="M12 12v-3.5M10.6 9.8l1.4-1.4 1.4 1.4" stroke="#fff" stroke-width=".9" fill="none"/></svg>
 <div class="a num" style="right:6px;top:400.1px">548<span style="font-size:12px"> m</span></div>
 <div class="band" style="top:429.9px;height:14px"></div>

 <div class="tab">
  <div><svg width="24" height="20" viewBox="0 0 24 20"><g stroke="#999" stroke-width="1.1" fill="none"><circle cx="6" cy="14" r="4.5"/><circle cx="18" cy="14" r="4.5"/><path d="M6 14 L10 7 L16 8 L18 14 M10 7 L13 14 L16 8 M12 4 L14 8"/></g><circle cx="15" cy="2.5" r="1.6" fill="#999"/></svg><span>Sessione</span></div>
  <div><svg width="24" height="20" viewBox="0 0 24 20"><g fill="#8fc043"><rect x="3" y="3" width="3" height="2.5"/><rect x="3" y="9" width="3" height="2.5"/><rect x="3" y="15" width="3" height="2.5"/><rect x="8" y="3" width="13" height="2.5"/><rect x="8" y="9" width="13" height="2.5"/><rect x="8" y="15" width="13" height="2.5"/></g></svg><span style="color:#8fc043">Diario</span></div>
  <div><svg width="24" height="20" viewBox="0 0 24 20"><g fill="#888"><rect x="10.5" y="3" width="3" height="16"/><path d="M5 3 H19 L20.5 4.5 L19 6 H5Z"/><path d="M14 8 H18 V11 H14Z"/></g></svg><span>Percorsi</span></div>
  <div><svg width="24" height="20" viewBox="0 0 24 20"><path d="M2 8 L7 6 L12 8 L17 6 L22 8 V19 L17 17 L12 19 L7 17 L2 19Z" stroke="#999" stroke-width="1.1" fill="none"/><path d="M12 12 L9 6 A3.4 3.4 0 1 1 15 6Z" fill="#999"/><circle cx="12" cy="4.6" r="1.3" fill="#f8f8f8"/></svg><span>Mappa Offline</span></div>
  <div><svg width="24" height="20" viewBox="0 0 24 20"><circle cx="12" cy="10" r="6.3" fill="none" stroke="#888" stroke-width="3" stroke-dasharray="2.6 2.35"/><circle cx="12" cy="10" r="5" fill="#888"/><circle cx="12" cy="10" r="2.2" fill="#f8f8f8"/></svg><span>Impostazioni</span></div>
 </div>
</div>

</body></html>
